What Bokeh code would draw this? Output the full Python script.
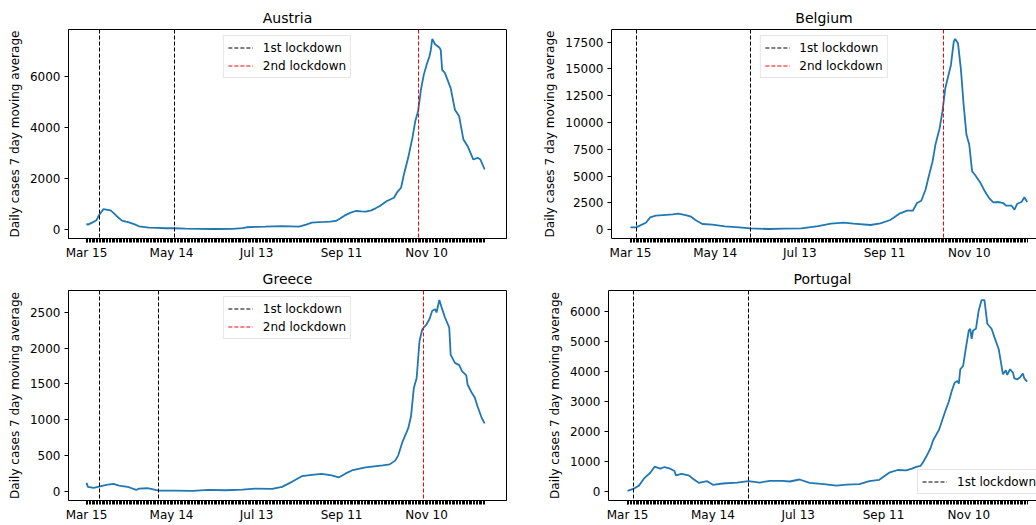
from bokeh.plotting import figure
from bokeh.models import Range1d, FixedTicker, LinearAxis, Legend, LegendItem
from bokeh.layouts import column, row
from bokeh.embed import file_html
from bokeh.resources import INLINE

FONT = "DejaVu Sans"
BLUE = "#1f77b4"

# ---------------- data ----------------
n_days = 282
tick_days = [0, 60, 120, 180, 240]
tick_labels = ["Mar 15", "May 14", "Jul 13", "Sep 11", "Nov 10"]
y_label = "Daily cases 7 day moving average"

austria_day = [0, 1, 4, 7, 9, 12, 15, 17, 19, 21, 25, 30, 34, 37, 44, 50, 56, 62, 70, 80, 90, 103,
               110, 113, 120, 126, 132, 138, 144, 150, 155, 159, 164, 168, 172, 176, 179, 182, 186,
               190, 194, 197, 201, 204, 207, 212, 217, 219, 222, 224, 227, 230, 232, 234, 236, 238,
               240, 242, 243, 244, 246, 249, 250, 251, 253, 257, 260, 263, 266, 269, 273, 276, 278, 281]
austria_cases = [220, 180, 260, 350, 570, 790, 760, 740, 640, 530, 340, 270, 190, 117, 65, 55, 40, 40,
                 25, 13, 10, 13, 45, 78, 95, 104, 115, 117, 110, 104, 180, 260, 280, 286, 300, 325, 420,
                 533, 640, 715, 700, 690, 740, 820, 913, 1108, 1237, 1433, 1628, 2147, 2800, 3580, 4232,
                 4622, 5466, 6051, 6442, 6770, 7027, 7457, 7250, 7121, 7027, 6246, 6117, 5532, 4685,
                 4427, 3514, 3256, 2733, 2800, 2733, 2342]
austria_first = [9, 62]
austria_second = [234]
austria_yticks = [0, 2000, 4000, 6000]

belgium_day = [0, 4, 7, 11, 14, 18, 23, 30, 34, 39, 43, 46, 51, 58, 67, 77, 85, 98, 109, 121, 133, 142,
               151, 158, 170, 177, 184, 191, 196, 200, 203, 206, 209, 211, 214, 216, 219, 221, 223,
               225, 227, 229, 230, 232, 234, 236, 238, 240, 242, 244, 248, 251, 254, 257, 261, 264,
               266, 270, 272, 274, 277, 279, 281]
belgium_cases = [217, 217, 400, 650, 1150, 1300, 1365, 1430, 1490, 1365, 1210, 900, 530, 465, 310, 217,
                 124, 62, 93, 124, 340, 560, 650, 560, 435, 590, 900, 1520, 1769, 1769, 2485, 2700,
                 3724, 4813, 6367, 7913, 9467, 11022, 13190, 14280, 15360, 17540, 17780, 17380, 15050,
                 11640, 8840, 7913, 5436, 5120, 4347, 3574, 2950, 2550, 2579, 2485, 2234, 2234, 1862,
                 2420, 2579, 3016, 2579]
belgium_first = [4, 85]
belgium_second = [222]
belgium_yticks = [0, 2500, 5000, 7500, 10000, 12500, 15000, 17500]

greece_day = [0, 1, 5, 8, 14, 19, 23, 30, 35, 37, 43, 51, 61, 75, 86, 98, 110, 119, 131, 138, 145, 152,
              159, 166, 173, 178, 183, 188, 192, 197, 203, 209, 214, 218, 220, 223, 227, 229, 231, 233,
              235, 237, 240, 242, 244, 246, 247, 249, 251, 253, 256, 257, 260, 263, 265, 268, 269,
              272, 274, 276, 279, 281]
greece_cases = [122, 66, 52, 66, 94, 108, 84, 61, 23, 42, 47, 14, 14, 9, 23, 19, 28, 42, 37, 66, 136,
                215, 234, 248, 225, 197, 253, 300, 318, 337, 351, 365, 379, 435, 505, 694, 880, 1045,
                1442, 1582, 2098, 2261, 2331, 2401, 2519, 2541, 2495, 2668, 2541, 2425, 2284, 1909,
                1793, 1761, 1677, 1620, 1488, 1372, 1311, 1185, 1021, 951]
greece_first = [9, 51]
greece_second = [238]
greece_yticks = [0, 500, 1000, 1500, 2000, 2500]

portugal_day = [0, 4, 8, 12, 16, 19, 23, 26, 30, 33, 34, 38, 43, 46, 50, 56, 60, 67, 77, 85, 93, 100,
                109, 114, 121, 128, 138, 147, 154, 163, 170, 177, 184, 190, 196, 200, 203, 206, 208,
                210, 213, 215, 219, 221, 223, 226, 228, 230, 232, 233, 234, 236, 238, 240, 241, 242,
                243, 245, 247, 249, 251, 253, 256, 258, 261, 262, 264, 266, 267, 269, 271, 272, 274,
                276, 278, 279, 281]
portugal_cases = [22, 90, 200, 460, 630, 830, 765, 820, 765, 685, 540, 595, 540, 427, 292, 348, 225,
                  270, 303, 348, 303, 360, 360, 337, 404, 292, 247, 202, 236, 247, 348, 393, 630, 720,
                  708, 765, 822, 856, 991, 1160, 1439, 1719, 2056, 2339, 2619, 3014, 3351, 3631, 3688,
                  3597, 4079, 4193, 4810, 5373, 5427, 5090, 5373, 5427, 6047, 6385, 6385, 5596, 5427,
                  5148, 4753, 4473, 3910, 4045, 3890, 4079, 3968, 3776, 3742, 3800, 3934, 3776, 3664]
portugal_first = [4, 85]
portugal_yticks = [0, 1000, 2000, 3000, 4000, 5000, 6000]


def make_panel(title, days, cases, first, second, yticks, right_col, top_row):
    lo, hi = min(cases), max(cases)
    pad = 0.05 * (hi - lo)
    if right_col:
        xr = Range1d(-13.4, 287.6)
        width, mb_left, mb_right = 496, 68, 0
    else:
        xr = Range1d(-12.7, 296.4)
        width, mb_left, mb_right = 540, 68, 34
    if top_row:
        height, mb_top, mb_bottom = 262, 29, 24
    else:
        height, mb_top, mb_bottom = 263, 28, 25

    p = figure(width=width, height=height, x_range=xr, y_range=Range1d(lo - pad, hi + pad),
               output_backend="svg", toolbar_location=None,
               min_border_left=mb_left, min_border_right=mb_right,
               min_border_top=mb_top, min_border_bottom=mb_bottom)
    p.background_fill_color = "white"
    p.border_fill_color = "white"
    p.grid.visible = False

    p.title.text = title
    p.title.align = "center"
    p.title.text_font = FONT
    p.title.text_font_size = "14px"
    p.title.text_font_style = "normal"
    p.title.text_color = "black"
    p.title.standoff = 8

    xa = p.below[0]
    xa.ticker = FixedTicker(ticks=tick_days, minor_ticks=list(range(n_days)))
    xa.major_label_overrides = {d: l for d, l in zip(tick_days, tick_labels)}
    xa.major_tick_out = 4
    xa.major_tick_in = 0
    xa.minor_tick_out = 4
    xa.minor_tick_in = 0
    xa.minor_tick_line_color = "black"
    xa.major_label_standoff = 3

    ya = p.left[0]
    ya.ticker = FixedTicker(ticks=yticks)
    ya.major_tick_out = 4
    ya.major_tick_in = 0
    ya.major_label_standoff = 4
    ya.axis_label = y_label
    ya.axis_label_standoff = 5
    ya.axis_label_text_font = FONT
    ya.axis_label_text_font_size = "12px"
    ya.axis_label_text_font_style = "normal"
    ya.axis_label_text_color = "black"

    for ax in (xa, ya):
        ax.major_label_text_font = FONT
        ax.major_label_text_font_size = "12px"
        ax.major_label_text_color = "black"
        ax.axis_line_color = "black"
        ax.axis_line_width = 1
        ax.major_tick_line_color = "black"

    if right_col:
        # the frame runs past the window edge in the reference: no right border line
        p.outline_line_color = None
        top = LinearAxis(ticker=FixedTicker(ticks=[]), major_label_text_font_size="0px",
                         major_label_standoff=0, axis_label_standoff=0,
                         major_tick_out=0, major_tick_in=0, minor_tick_out=0, minor_tick_in=0,
                         axis_line_color="black", axis_line_width=1)
        p.add_layout(top, "above")
    else:
        p.outline_line_color = "black"
        p.outline_line_width = 1

    p.line(days, cases, line_color=BLUE, line_width=1.8)

    items = []
    r1 = p.vspan(x=first, line_color="black", line_width=1, line_dash="4 2")
    items.append(LegendItem(label="1st lockdown", renderers=[r1]))
    if second:
        r2 = p.vspan(x=second, line_color="red", line_width=1, line_dash="4 2")
        items.append(LegendItem(label="2nd lockdown", renderers=[r2]))

    loc = "top_center" if second else (309, 6)
    leg = Legend(items=items, location=loc)
    leg.label_text_font = FONT
    leg.label_text_font_size = "12px"
    leg.label_text_color = "black"
    leg.glyph_width = 25
    leg.glyph_height = 15
    leg.label_height = 15
    leg.label_standoff = 10
    leg.spacing = 3
    leg.padding = 4
    leg.margin = 6
    leg.border_line_color = "#cccccc"
    leg.border_line_width = 1
    leg.background_fill_alpha = 0.8
    p.add_layout(leg)
    return p


pa = make_panel("Austria", austria_day, austria_cases, austria_first, austria_second,
                austria_yticks, False, True)
pb = make_panel("Belgium", belgium_day, belgium_cases, belgium_first, belgium_second,
                belgium_yticks, True, True)
pg = make_panel("Greece", greece_day, greece_cases, greece_first, greece_second,
                greece_yticks, False, False)
pp = make_panel("Portugal", portugal_day, portugal_cases, portugal_first, [],
                portugal_yticks, True, False)

layout = column(row(pa, pb), row(pg, pp))

with open("out.html", "w") as f:
    f.write(file_html(layout, INLINE))
